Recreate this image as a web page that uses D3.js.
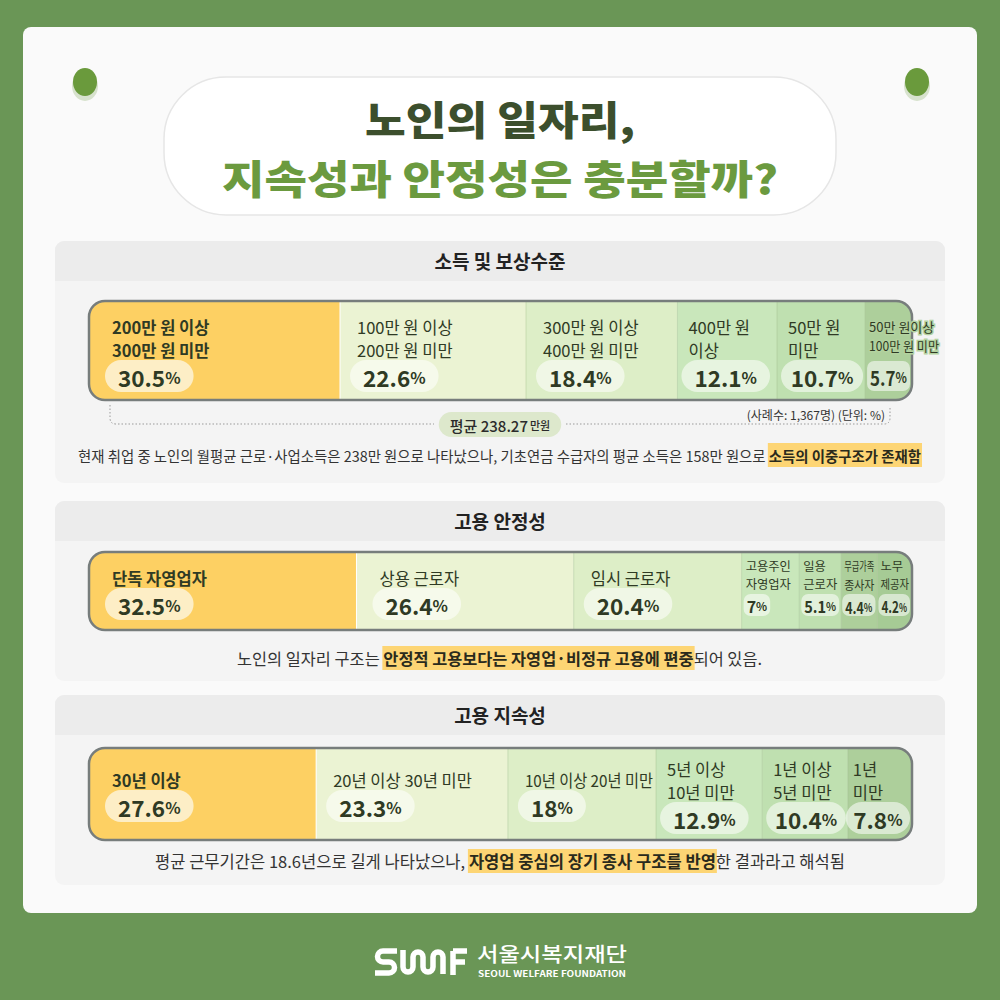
<!DOCTYPE html>
<html><head><meta charset="utf-8">
<script src="https://cdn.jsdelivr.net/npm/d3@7"></script>
<style>
html,body{margin:0;padding:0;background:#6a9656;}
svg{display:block;}
text{font-family:"Noto Sans CJK KR","Noto Sans",sans-serif;white-space:pre;}
</style></head>
<body>
<svg id="c" width="1000" height="1000"></svg>
<script>
// ---------- DATA ----------
const titleLines = ["노인의 일자리,", "지속성과 안정성은 충분할까?"];
const sectionTitles = ["소득 및 보상수준", "고용 안정성", "고용 지속성"];

const incomeCategories = [["200만 원 이상","300만 원 미만"],["100만 원 이상","200만 원 미만"],["300만 원 이상","400만 원 미만"],["400만 원","이상"],["50만 원","미만"],["50만 원이상","100만 원 미만"]];
const incomeValues = [30.5, 22.6, 18.4, 12.1, 10.7, 5.7];

const stabilityCategories = [["단독 자영업자"],["상용 근로자"],["임시 근로자"],["고용주인","자영업자"],["일용","근로자"],["무급가족","종사자"],["노무","제공자"]];
const stabilityValues = [32.5, 26.4, 20.4, 7, 5.1, 4.4, 4.2];

const tenureCategories = [["30년 이상"],["20년 이상 30년 미만"],["10년 이상 20년 미만"],["5년 이상","10년 미만"],["1년 이상","5년 미만"],["1년","미만"]];
const tenureValues = [27.6, 23.3, 18, 12.9, 10.4, 7.8];

const incomeAverage = "평균 238.27";
const incomeAverageUnit = "만원";
const incomeNote = "(사례수: 1,367명) (단위: %)";

const desc1 = ["현재 취업 중 노인의 월평균 근로·사업소득은 238만 원으로 나타났으나, 기초연금 수급자의 평균 소득은 158만 원으로 ", "소득의 이중구조가 존재함", ""];
const desc2 = ["노인의 일자리 구조는 ", "안정적 고용보다는 자영업·비정규 고용에 편중", "되어 있음."];
const desc3 = ["평균 근무기간은 18.6년으로 길게 나타났으나, ", "자영업 중심의 장기 종사 구조를 반영", "한 결과라고 해석됨"];

const footerName = "서울시복지재단";
const footerEng = "SEOUL WELFARE FOUNDATION";

// ---------- STYLE ----------
const segColors = ["#fdd063","#ebf3d3","#ddeec7","#c9e7bb","#bfe0b0","#adcf9b","#a6cb95"];
const darkText = "#2f3a24";
const svg = d3.select("#c");

svg.append("rect").attr("width",1000).attr("height",1000).attr("fill","#6a9656");
svg.append("rect").attr("x",23).attr("y",27).attr("width",954).attr("height",886).attr("rx",8).attr("fill","#fafafa");

[[85,82],[917,82]].forEach(([cx,cy])=>{
  svg.append("ellipse").attr("cx",cx).attr("cy",cy+4).attr("rx",13).attr("ry",15).attr("fill","#d7e2cd");
  svg.append("ellipse").attr("cx",cx).attr("cy",cy).attr("rx",12).attr("ry",14).attr("fill","#6a9a3c");
});

svg.append("rect").attr("x",164).attr("y",77).attr("width",672).attr("height",138).attr("rx",62)
  .attr("fill","#ffffff").attr("stroke","#e6e6e6").attr("stroke-width",1.5);
svg.append("text").attr("x",500).attr("y",135).attr("text-anchor","middle")
  .attr("font-size",40).attr("font-weight",900).attr("fill","#3c4f2d")
  .attr("textLength",270).attr("lengthAdjust","spacingAndGlyphs").text(titleLines[0]);
svg.append("text").attr("x",500).attr("y",194).attr("text-anchor","middle")
  .attr("font-size",40).attr("font-weight",900).attr("fill","#6b9a3f")
  .attr("textLength",556).attr("lengthAdjust","spacingAndGlyphs").text(titleLines[1]);

const panels = [{y:241,h:242},{y:501,h:180},{y:695,h:190}];
panels.forEach((p,i)=>{
  svg.append("rect").attr("x",55).attr("y",p.y).attr("width",890).attr("height",p.h).attr("rx",9).attr("fill","#f4f4f4");
  svg.append("path").attr("d",`M55,${p.y+40} V${p.y+9} a9,9 0 0 1 9,-9 H936 a9,9 0 0 1 9,9 V${p.y+40} Z`).attr("fill","#ececec");
  svg.append("text").attr("x",500).attr("y",p.y+28).attr("text-anchor","middle")
    .attr("font-size",19).attr("font-weight",700).attr("fill","#222").text(sectionTitles[i]);
});

function textWidth(str, size, weight){
  const t = svg.append("text").attr("font-size",size).attr("font-weight",weight).text(str);
  const w = t.node().getComputedTextLength(); t.remove(); return w;
}

// ---------- BARS ----------
function drawBar(cats, vals, cfg){
  const x = d3.scaleLinear().domain([0, d3.sum(vals)]).range([89, 912]);
  const cum = d3.cumsum(vals);
  const starts = [0, ...cum.slice(0,-1)];
  const g = svg.append("g");
  const clipId = "clip"+cfg.y;
  svg.append("clipPath").attr("id",clipId).append("rect")
    .attr("x",89).attr("y",cfg.y).attr("width",823).attr("height",cfg.h).attr("rx",16);
  const segs = g.append("g").attr("clip-path",`url(#${clipId})`);
  segs.selectAll("rect").data(vals).join("rect")
    .attr("x",(d,i)=>x(starts[i])).attr("y",cfg.y)
    .attr("width",(d,i)=>x(cum[i])-x(starts[i])).attr("height",cfg.h)
    .attr("fill",(d,i)=>segColors[i]);
  segs.selectAll("line").data(vals.slice(1)).join("line")
    .attr("x1",(d,i)=>x(cum[i])).attr("x2",(d,i)=>x(cum[i]))
    .attr("y1",cfg.y).attr("y2",cfg.y+cfg.h)
    .attr("stroke",(d,i)=> i===0 ? "#ffffff" : "rgba(150,180,130,0.35)").attr("stroke-width",1);
  g.append("rect").attr("x",89).attr("y",cfg.y).attr("width",823).attr("height",cfg.h).attr("rx",16)
    .attr("fill","none").attr("stroke","#777d7c").attr("stroke-width",2.5);

  vals.forEach((v,i)=>{
    const x0 = x(starts[i]), w = x(cum[i]) - x0;
    const mode = w < cfg.smallW ? cfg.smallMode : "normal";
    const off = w>200?23 : w>140?17 : w>80?11 : w>60?5 : w>40?4 : 3;
    const lx = x0 + off;
    const lines = cats[i];
    const fs = mode==="normal" ? 16.5 : (mode==="mid" ? 13 : 12.3);
    const fw = i===0 ? 700 : 400;
    const lineGap = mode==="normal" ? 23 : (mode==="mid" ? 19 : 18);
    const two = lines.length > 1;
    const l1 = two ? (mode==="normal" ? cfg.t1 : cfg.s1) : cfg.one;
    const avail = mode==="mid" ? 70 : w - off - 3;
    lines.forEach((ln,k)=>{
      const yy = l1 + k*lineGap;
      const t = g.append("text").attr("x",0).attr("y",0)
        .attr("transform",`translate(${lx},${yy})`)
        .attr("font-size",fs).attr("font-weight",fw).attr("fill",darkText).attr("dominant-baseline","central").text(ln);
      const tw = t.node().getComputedTextLength();
      if (tw > avail) t.attr("transform",`translate(${lx},${yy}) scale(${avail/tw},1)`);
      if (mode==="mid") t.attr("stroke","#b3d29f").attr("stroke-width",3).attr("paint-order","stroke");
    });
    // value pill
    const pc = mode==="normal" ? (two ? cfg.tp : cfg.op) : cfg.sp;
    let nfs = mode==="normal" ? 22.5 : (mode==="mid" ? 20 : 16);
    let pfs = mode==="normal" ? 16 : (mode==="mid" ? 14 : 11.5);
    let numW = textWidth(String(v), nfs, 700) + textWidth("%", pfs, 700);
    let pad = mode==="normal" ? 13 : 3;
    const ph = mode==="normal" ? 32 : (mode==="mid" ? 30 : 22);
    const px = mode==="normal" ? lx - 7 : lx - 2;
    const maxW = x0 + w - px - 2;
    if (numW + 2*pad > maxW) pad = Math.max(3, (maxW - numW)/2);
    let sx = 1;
    if (numW + 2*pad > maxW) sx = (maxW - 2*pad) / numW;
    const pw = numW*sx + 2*pad;
    g.append("rect").attr("x",px).attr("y",pc - ph/2).attr("width",pw).attr("height",ph)
      .attr("rx", mode==="normal" ? ph/2 : 7)
      .attr("fill", i===0 ? "#fdeec6" : "rgba(255,255,255,0.55)");
    const pt = g.append("text").attr("x",0).attr("y",0)
      .attr("transform",`translate(${px+pad},${pc+1}) scale(${sx},1)`)
      .attr("dominant-baseline","central").attr("font-weight",700).attr("fill",darkText);
    pt.append("tspan").attr("font-size",nfs).text(String(v));
    pt.append("tspan").attr("font-size",pfs).text("%");
  });
  return x;
}

drawBar(incomeCategories, incomeValues, {y:301,h:99,t1:327,one:327,s1:326,op:376,tp:376,sp:376,smallW:50,smallMode:"mid"});
drawBar(stabilityCategories, stabilityValues, {y:552,h:78,t1:578,one:578,s1:566,op:604,tp:604,sp:605,smallW:60,smallMode:"tiny"});
drawBar(tenureCategories, tenureValues, {y:748,h:92,t1:769,one:780,s1:769,op:806,tp:818,sp:818,smallW:40,smallMode:"tiny"});

// income average bracket
svg.append("path").attr("d","M110,405 V418 q0,6 6,6 H434 M566,424 H884 q6,0 6,-6 V406")
  .attr("fill","none").attr("stroke","#9a9a9a").attr("stroke-width",1).attr("stroke-dasharray","1.5,2");
const avgW = textWidth(incomeAverage, 15, 500) + textWidth(incomeAverageUnit, 11, 500);
svg.append("rect").attr("x",500 - (avgW+24)/2).attr("y",412).attr("width",avgW+24).attr("height",25).attr("rx",12.5).attr("fill","#dde8cc");
const at = svg.append("text").attr("x",500).attr("y",425).attr("text-anchor","middle").attr("dominant-baseline","central").attr("fill","#2b2b2b").attr("font-weight",500);
at.append("tspan").attr("font-size",15).text(incomeAverage);
at.append("tspan").attr("font-size",11).attr("dx",2).text(incomeAverageUnit);
svg.append("text").attr("x",885).attr("y",414).attr("text-anchor","end").attr("dominant-baseline","central")
  .attr("font-size",12).attr("fill","#333").text(incomeNote);

// descriptions
function drawDesc(parts, cy, x0, x1){
  const base = 15;
  const ws = parts.map((p,i)=> p ? textWidth(p, base, i===1?700:400) : 0);
  const total = d3.sum(ws);
  const k = (x1 - x0) / total;
  const fs = base * k;
  let cx = x0;
  parts.forEach((p,i)=>{
    if (!p) return;
    const w = ws[i]*k;
    if (i===1) svg.append("rect").attr("x",cx-1).attr("y",cy-12).attr("width",w+2).attr("height",24).attr("fill","#fdd574");
    svg.append("text").attr("x",cx).attr("y",cy).attr("dominant-baseline","central")
      .attr("font-size",fs).attr("font-weight",i===1?700:400).attr("fill",i===1?"#2a2a1c":"#333")
      .attr("textLength",w).attr("lengthAdjust","spacingAndGlyphs").text(p);
    cx += w;
  });
}
drawDesc(desc1, 455, 78, 921);
drawDesc(desc2, 658, 237, 762);
drawDesc(desc3, 861, 155, 845);

// footer logo
svg.append("path").attr("d","M397,951 H383 a5.5,5.5 0 0 0 0,11 H389 a5.5,5.5 0 0 1 0,11 H375")
  .attr("fill","none").attr("stroke","#fff").attr("stroke-width",5.5);
svg.append("path").attr("d","M403,950 V967 a5,5 0 0 0 10,0 V957 a5,5 0 0 1 10,0 V967 a5,5 0 0 0 10,0 V957 a5,5 0 0 1 10,0 V974")
  .attr("fill","none").attr("stroke","#fff").attr("stroke-width",5.5);
svg.append("path").attr("d","M453,951 H467 M453,951 V975 M453,962 H465")
  .attr("fill","none").attr("stroke","#fff").attr("stroke-width",5.5);
svg.append("text").attr("x",477).attr("y",953).attr("dominant-baseline","central")
  .attr("font-size",20).attr("fill","#fff").attr("font-weight",500)
  .attr("textLength",150).attr("lengthAdjust","spacingAndGlyphs").text(footerName);
svg.append("text").attr("x",478).attr("y",973).attr("dominant-baseline","central")
  .attr("font-size",8.5).attr("fill","#fff").attr("font-weight",700)
  .attr("textLength",148).attr("lengthAdjust","spacingAndGlyphs").text(footerEng);
</script>
</body></html>
